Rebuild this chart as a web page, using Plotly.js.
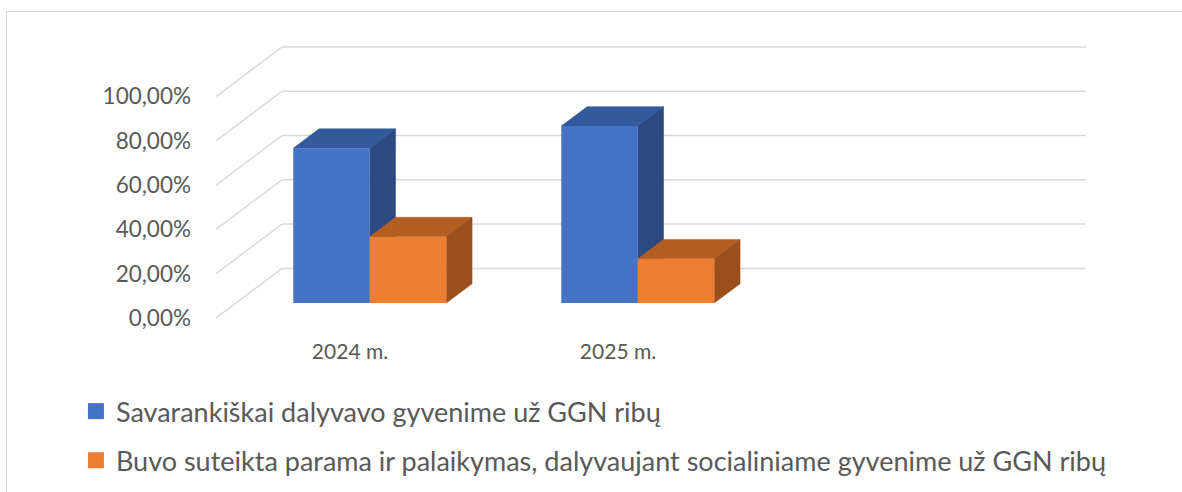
<!DOCTYPE html>
<html><head><meta charset="utf-8">
<script src="https://cdn.plot.ly/plotly-3.0.1.min.js"></script>
<style>html,body{margin:0;padding:0;background:#fff}#chart{width:1182px;height:492px}</style>
</head><body><div id="chart"></div>
<script>
// ---- data ----
const categories = ['2024 m.', '2025 m.'];
const seriesNames = [
  'Savarankiškai dalyvavo gyvenime už GGN ribų',
  'Buvo suteikta parama ir palaikymas, dalyvaujant socialiniame gyvenime už GGN ribų'
];
const savarankiskai = [70, 80];
const parama = [30, 20];
const yTicks = [0, 20, 40, 60, 80, 100];
const yTickLabels = ['0,00%', '20,00%', '40,00%', '60,00%', '80,00%', '100,00%'];

// ---- style / geometry ----
const series = [savarankiskai, parama];
const frontColors = ['#4472C4', '#ED7D31'];
const topColors = ['#335A9A', '#B55E22'];
const sideColors = ['#2C4A80', '#9A4F1C'];
const nSlots = 3;            // category slots on the axis (third one empty)
const DX = 66 / 268;         // depth of floor in category units
const DY = 22.4;             // depth of floor in percent units
const FRONT = 0.3;           // bar front face depth fraction
const DEPTH = 0.39;          // bar depth fraction
const W = 0.2855;            // bar width in category units
const FONT = 'Lato, "Open Sans", sans-serif';
const TXT = '#595959';
const GRID = '#D9D9D9';

const traces = [];
series.forEach((vals, s) => {
  const off = s === 0 ? -W : 0;
  const fx = FRONT * DX, fy = FRONT * DY, dx = DEPTH * DX, dy = DEPTH * DY;
  vals.forEach((v, i) => {
    const xl = i + off + fx, xr = xl + W, b = fy, t = fy + v;
    traces.push({
      type: 'scatter', mode: 'lines', fill: 'toself', showlegend: false, hoverinfo: 'skip',
      x: [xl, xr, xr + dx, xl + dx, xl], y: [t, t, t + dy, t + dy, t],
      fillcolor: topColors[s], line: {color: topColors[s], width: 0.5}, zorder: 2 * s + 1
    });
    traces.push({
      type: 'scatter', mode: 'lines', fill: 'toself', showlegend: false, hoverinfo: 'skip',
      x: [xr, xr, xr + dx, xr + dx, xr], y: [b, t, t + dy, b + dy, b],
      fillcolor: sideColors[s], line: {color: sideColors[s], width: 0.5}, zorder: 2 * s + 1
    });
  });
  traces.push({
    type: 'bar', name: seriesNames[s], showlegend: false, legendgroup: 'g' + s,
    x: vals.map((v, i) => i + FRONT * DX), y: vals,
    base: vals.map(() => FRONT * DY), offset: off, width: W,
    marker: {color: frontColors[s], line: {width: 0}}, zorder: 2 * s + 2
  });
  traces.push({
    type: 'scatter', mode: 'markers', name: seriesNames[s], legendgroup: 'g' + s,
    x: [null], y: [null], marker: {symbol: 'square', size: 16, color: frontColors[s]}
  });
});

const shapes = [];
yTicks.forEach(v => {
  shapes.push({type: 'line', xref: 'x', yref: 'y', layer: 'below',
    x0: -0.5 + DX, x1: nSlots - 0.5 + DX, y0: v + DY, y1: v + DY,
    line: {color: GRID, width: 1.5}});
  shapes.push({type: 'line', xref: 'x', yref: 'y', layer: 'below',
    x0: -0.5, x1: -0.5 + DX, y0: v, y1: v + DY,
    line: {color: GRID, width: 1.5}});
});
// chart border
shapes.push({type: 'rect', xref: 'paper', yref: 'paper', layer: 'below',
  x0: (6.5 - 216) / 870, x1: 1.2, y0: -1, y1: (318 - 11.5) / 273,
  line: {color: GRID, width: 1}, fillcolor: 'rgba(0,0,0,0)'});

const layout = {
  width: 1182, height: 492,
  margin: {l: 216, r: 96, t: 45, b: 174, autoexpand: false},
  paper_bgcolor: '#fff', plot_bgcolor: 'rgba(0,0,0,0)',
  barmode: 'overlay',
  showlegend: true,
  font: {family: FONT, color: TXT},
  xaxis: {
    range: [-0.5, nSlots - 0.5 + DX], tickvals: categories.map((c, i) => i), ticktext: categories,
    showgrid: false, zeroline: false, showline: false, ticks: '', automargin: false,
    ticklabelstandoff: 19, tickfont: {family: FONT, size: 21, color: TXT}, fixedrange: true
  },
  yaxis: {
    range: [0, 123.3], tickvals: yTicks, ticktext: yTickLabels,
    showgrid: false, zeroline: false, showline: false, ticks: '', automargin: false,
    ticklabelstandoff: 24, tickfont: {family: FONT, size: 22.5, color: TXT}, fixedrange: true
  },
  legend: {
    orientation: 'v', x: -0.161, xanchor: 'left', y: -0.253, yanchor: 'top',
    font: {family: FONT, size: 27, color: TXT}, tracegroupgap: 11,
    bgcolor: 'rgba(0,0,0,0)', borderwidth: 0
  },
  shapes: shapes
};

Plotly.newPlot('chart', traces, layout, {displayModeBar: false, staticPlot: true});
</script>
</body></html>
